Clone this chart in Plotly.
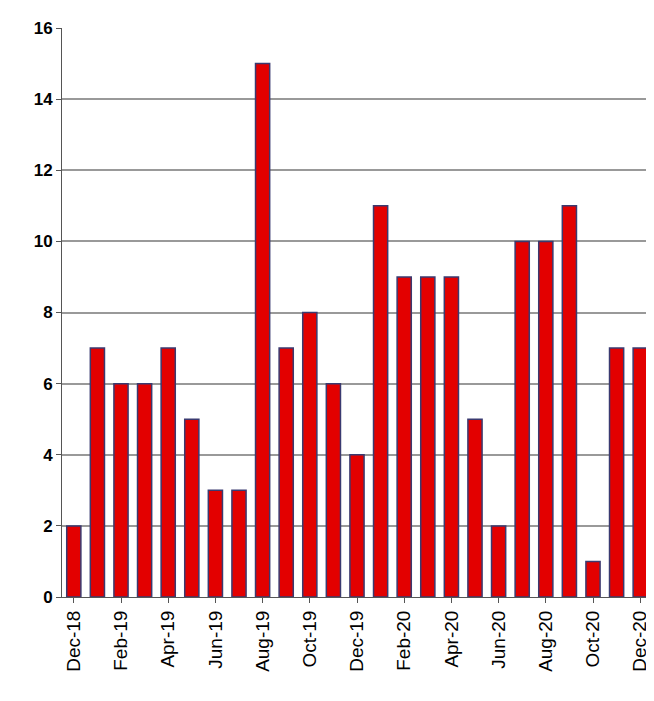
import plotly.graph_objects as go

months = ["Dec-18", "Jan-19", "Feb-19", "Mar-19", "Apr-19", "May-19", "Jun-19", "Jul-19",
          "Aug-19", "Sep-19", "Oct-19", "Nov-19", "Dec-19", "Jan-20", "Feb-20", "Mar-20",
          "Apr-20", "May-20", "Jun-20", "Jul-20", "Aug-20", "Sep-20", "Oct-20", "Nov-20", "Dec-20"]
counts = [2, 7, 6, 6, 7, 5, 3, 3, 15, 7, 8, 6, 4, 11, 9, 9, 9, 5, 2, 10, 10, 11, 1, 7, 7]
shown_labels = months[::2]

fig = go.Figure(go.Bar(
    x=months, y=counts,
    marker=dict(color="#e30000", line=dict(color="#3a3a70", width=1.5)),
))
fig.update_layout(
    width=654, height=701,
    margin=dict(l=54, r=10, t=20, b=112),
    plot_bgcolor="white", paper_bgcolor="white",
    bargap=0.4, showlegend=False,
    font=dict(family="Arial, Liberation Sans", color="black"),
)
fig.update_xaxes(
    tickmode="array", tickvals=shown_labels, ticktext=shown_labels,
    tickangle=-90, tickfont=dict(size=19), showline=True, linecolor="#555",
    ticks="outside", ticklen=5, tickcolor="#555",
)
fig.update_yaxes(
    range=[0, 16], dtick=2, tickfont=dict(size=17, weight="bold"),
    showgrid=True, gridcolor="#999", gridwidth=1.5,
    showline=True, linecolor="#555", ticks="outside", ticklen=5, tickcolor="#555",
)
fig.write_html("out.html")
